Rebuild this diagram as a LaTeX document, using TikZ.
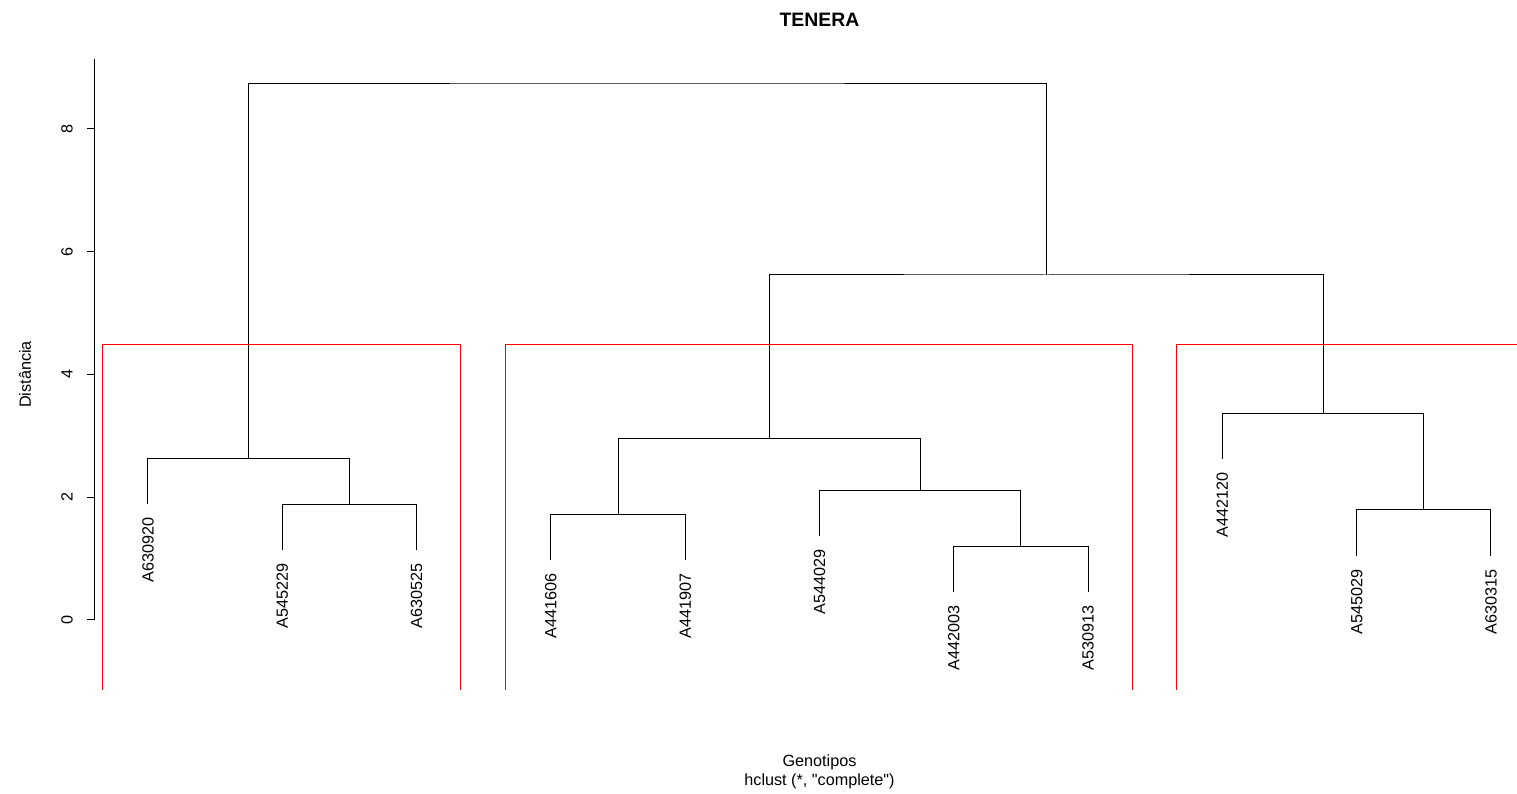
\documentclass[tikz,border=0pt]{standalone}
\usepackage{fontspec}
\setmainfont{Liberation Sans}
\newfontfamily\plainsans{Liberation Sans}
\usetikzlibrary{positioning}

\begin{document}
\begin{tikzpicture}[
    x=67.15pt, y=30.7pt,
    every node/.style={font=\fontsize{8.1}{9.7}\selectfont},
    branch/.style={draw=black, line width=0.5pt},
    cutbox/.style={draw=red, line width=0.5pt},
    axisline/.style={draw=black, line width=0.5pt},
    leaflab/.style={rotate=90, anchor=east, inner sep=0pt},
    ticklab/.style={rotate=90, inner sep=0pt},
  ]

  % ============ Page frame ============
  \clip (-0.102,-2.818) rectangle (11.194,10.098);
  \useasboundingbox (-0.102,-2.818) rectangle (11.194,10.098);

  % ============ Titles ============
  \node[font=\fontsize{9.7}{11.6}\selectfont\bfseries] (title) at (6.0,9.77) {TENERA};
  \node (xlab) at (6.0,-2.31) {Genotipos};
  \node (sub)  at (6.0,-2.62) {\plainsans hclust (*, "complete")};
  \node[ticklab] (ylab) at (0.084,4.0) {Distância};

  % ============ Y axis ============
  \draw[axisline] (0.6,0) -- (0.6,9.14);
  \foreach \v in {0,2,...,8} {
    \draw[axisline] (0.6,\v) -- (0.548,\v);
    \node[ticklab] (tick\v) at (0.397,\v) {\v};
  }

  % ============ Leaves (x = order, y = end of hanging line) ============
  \coordinate (l1)  at (1,1.884);
  \coordinate (l2)  at (2,1.135);
  \coordinate (l3)  at (3,1.135);
  \coordinate (l4)  at (4,0.972);
  \coordinate (l5)  at (5,0.972);
  \coordinate (l6)  at (6,1.363);
  \coordinate (l7)  at (7,0.451);
  \coordinate (l8)  at (8,0.451);
  \coordinate (l9)  at (9,2.617);
  \coordinate (l10) at (10,1.038);
  \coordinate (l11) at (11,1.038);

  \foreach \i/\g in {1/A630920, 2/A545229, 3/A630525, 4/A441606,
                     5/A441907, 6/A544029, 7/A442003, 8/A530913,
                     9/A442120, 10/A545029, 11/A630315} {
    \node[leaflab] (\g) at ([yshift=-6.5pt]l\i) {\g};
  }

  % ============ Merge points ============
  \coordinate (mA) at (2.5,1.889);
  \coordinate (mB) at (1.75,2.638);
  \coordinate (mC) at (4.5,1.726);
  \coordinate (mD) at (7.5,1.205);
  \coordinate (mE) at (6.75,2.117);
  \coordinate (mF) at (5.625,2.964);
  \coordinate (mG) at (10.5,1.792);
  \coordinate (mH) at (9.75,3.371);
  \coordinate (mI) at (7.6875,5.619);
  \coordinate (mJ) at (4.71875,8.746);

  % ============ Branches ============
  \draw[branch] (l2) |- (mA) -| (l3);
  \draw[branch] (l1) |- (mB) -| (mA);
  \draw[branch] (l4) |- (mC) -| (l5);
  \draw[branch] (l7) |- (mD) -| (l8);
  \draw[branch] (l6) |- (mE) -| (mD);
  \draw[branch] (mC) |- (mF) -| (mE);
  \draw[branch] (l10) |- (mG) -| (l11);
  \draw[branch] (l9) |- (mH) -| (mG);
  \draw[branch] (mF) |- (mI) -| (mH);
  \draw[branch] (mB) |- (mJ) -| (mI);

  % ============ Cluster boxes (k = 3), cut at the plot bottom ============
  \draw[cutbox] (0.66,-1.14) |- (3.33,4.495) -- (3.33,-1.14);
  \draw[cutbox] (3.66,-1.14) |- (8.33,4.495) -- (8.33,-1.14);
  \draw[cutbox] (8.66,-1.14) |- (11.33,4.495) -- (11.33,-1.14);

\end{tikzpicture}
\end{document}
